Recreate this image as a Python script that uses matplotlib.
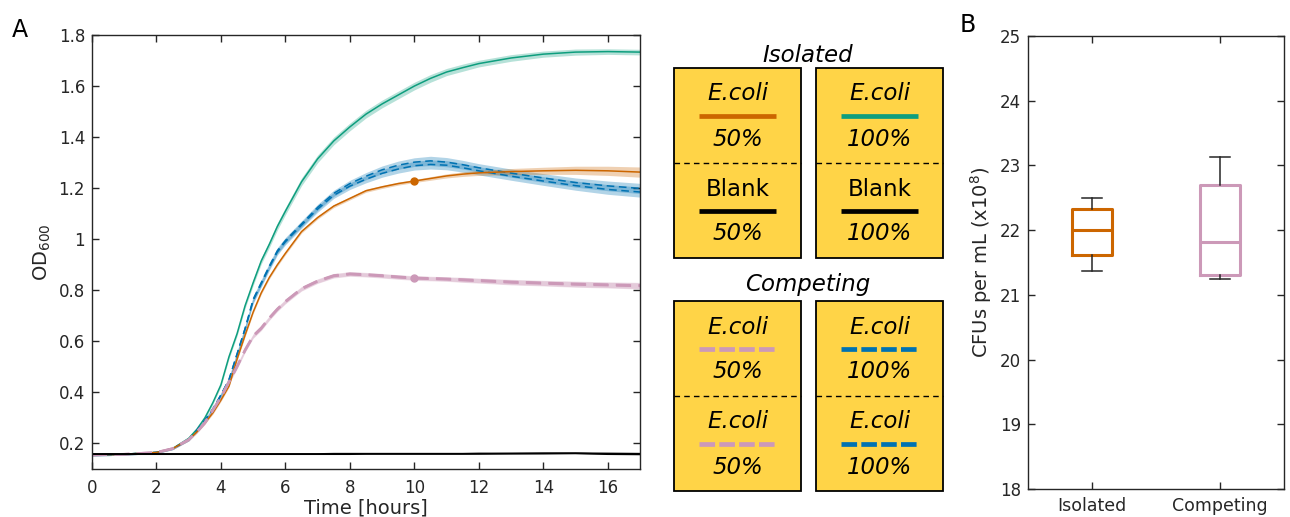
import numpy as np
import matplotlib.pyplot as plt
from matplotlib.patches import Rectangle

# ---- panel A : OD600 growth curves ----
time = [0, 1, 2, 2.5, 3, 3.25, 3.5, 3.75, 4, 4.25, 4.5, 4.75, 5, 5.25, 5.5, 5.75, 6,
        6.5, 7, 7.5, 8, 8.5, 9, 9.5, 10, 10.5, 11, 11.5, 12, 13, 14, 15, 16, 17]

iso100 = [0.155, 0.158, 0.165, 0.18, 0.22, 0.255, 0.30, 0.36, 0.43, 0.54, 0.63, 0.74, 0.83,
          0.915, 0.98, 1.05, 1.11, 1.225, 1.315, 1.385, 1.44, 1.49, 1.53, 1.565, 1.60, 1.63,
          1.655, 1.672, 1.688, 1.71, 1.725, 1.733, 1.735, 1.733]
iso50 = [0.155, 0.158, 0.165, 0.18, 0.215, 0.245, 0.28, 0.32, 0.37, 0.425, 0.53, 0.625, 0.715,
         0.79, 0.85, 0.90, 0.945, 1.03, 1.085, 1.13, 1.16, 1.19, 1.205, 1.218, 1.228, 1.238,
         1.248, 1.255, 1.26, 1.265, 1.268, 1.27, 1.268, 1.263]
comp100_a = [0.155, 0.158, 0.165, 0.18, 0.215, 0.25, 0.29, 0.335, 0.39, 0.45, 0.55, 0.65, 0.765,
             0.83, 0.895, 0.955, 0.995, 1.06, 1.125, 1.18, 1.218, 1.247, 1.272, 1.29, 1.302,
             1.307, 1.302, 1.292, 1.28, 1.259, 1.24, 1.222, 1.209, 1.199]
comp100_b = [0.155, 0.158, 0.165, 0.18, 0.215, 0.25, 0.29, 0.335, 0.39, 0.45, 0.55, 0.65, 0.76,
             0.825, 0.89, 0.95, 0.99, 1.055, 1.118, 1.172, 1.208, 1.235, 1.258, 1.275, 1.288,
             1.293, 1.29, 1.28, 1.268, 1.247, 1.228, 1.21, 1.195, 1.185]
comp50_a = [0.155, 0.158, 0.165, 0.18, 0.215, 0.245, 0.28, 0.33, 0.38, 0.44, 0.50, 0.565, 0.62,
            0.65, 0.69, 0.725, 0.755, 0.805, 0.835, 0.856, 0.863, 0.86, 0.856, 0.851, 0.847,
            0.845, 0.843, 0.84, 0.837, 0.831, 0.827, 0.823, 0.82, 0.817]
comp50_b = [0.155, 0.158, 0.165, 0.18, 0.215, 0.245, 0.282, 0.332, 0.383, 0.443, 0.503, 0.567, 0.622,
            0.653, 0.692, 0.727, 0.757, 0.807, 0.837, 0.858, 0.865, 0.862, 0.858, 0.853, 0.849,
            0.847, 0.845, 0.842, 0.839, 0.833, 0.829, 0.825, 0.822, 0.819]
blank50 = [0.159, 0.159, 0.159, 0.159, 0.159, 0.159, 0.159, 0.159, 0.159, 0.159, 0.159, 0.159, 0.159,
           0.159, 0.159, 0.159, 0.159, 0.159, 0.159, 0.16, 0.16, 0.16, 0.16, 0.16, 0.16, 0.16,
           0.16, 0.16, 0.161, 0.161, 0.162, 0.162, 0.161, 0.16]
blank100 = [0.158, 0.158, 0.158, 0.158, 0.158, 0.158, 0.158, 0.158, 0.158, 0.158, 0.158, 0.158, 0.158,
            0.158, 0.158, 0.158, 0.158, 0.158, 0.158, 0.158, 0.158, 0.159, 0.159, 0.159, 0.159, 0.159,
            0.159, 0.159, 0.159, 0.16, 0.16, 0.161, 0.158, 0.157]

# standard deviations (shaded bands)
iso100_sd = [0.004, 0.004, 0.004, 0.004, 0.005, 0.005, 0.006, 0.006, 0.007, 0.008, 0.009, 0.010,
             0.011, 0.012, 0.013, 0.014, 0.014, 0.015, 0.015, 0.015, 0.015, 0.015, 0.015, 0.015,
             0.015, 0.015, 0.014, 0.014, 0.013, 0.013, 0.012, 0.012, 0.011, 0.011]
iso50_sd = [0.003, 0.003, 0.003, 0.003, 0.004, 0.004, 0.004, 0.005, 0.005, 0.005, 0.005, 0.006,
            0.006, 0.006, 0.006, 0.006, 0.006, 0.006, 0.006, 0.006, 0.006, 0.006, 0.006, 0.006,
            0.006, 0.007, 0.008, 0.009, 0.010, 0.012, 0.014, 0.016, 0.018, 0.020]
comp100_sd = [0.004, 0.004, 0.004, 0.004, 0.005, 0.005, 0.006, 0.007, 0.008, 0.009, 0.010, 0.011,
              0.012, 0.012, 0.012, 0.012, 0.012, 0.012, 0.012, 0.012, 0.013, 0.014, 0.015, 0.016,
              0.017, 0.018, 0.018, 0.017, 0.016, 0.016, 0.017, 0.018, 0.019, 0.020]
comp50_sd = [0.004, 0.004, 0.004, 0.004, 0.005, 0.005, 0.006, 0.006, 0.007, 0.007, 0.008, 0.008,
             0.008, 0.008, 0.008, 0.008, 0.008, 0.008, 0.008, 0.008, 0.008, 0.008, 0.008, 0.008,
             0.008, 0.008, 0.008, 0.009, 0.009, 0.010, 0.010, 0.011, 0.011, 0.012]

# ---- panel B : CFU box plot stats ----
cfu_groups = ['Isolated', 'Competing']
cfu_whislo = [21.37, 21.25]
cfu_q1 = [21.62, 21.30]
cfu_med = [22.0, 21.81]
cfu_q3 = [22.32, 22.70]
cfu_whishi = [22.50, 23.13]

orange = '#CC6600'
green = '#0E9E7E'
blue = '#0072B2'
pink = '#CC99B8'
dark = '#262626'
yellow = '#FFD447'

plt.rcParams['font.family'] = 'DejaVu Sans'
plt.rcParams['mathtext.default'] = 'regular'

fig = plt.figure(figsize=(12.9, 5.17), dpi=100)
W, H = 1290, 517

def px_axes(l, t, r, b):
    return fig.add_axes([l / W, 1 - b / H, (r - l) / W, (b - t) / H])

def style(ax):
    ax.tick_params(direction='in', top=True, right=True, length=5, width=1,
                   colors=dark, labelsize=12, pad=5)
    for s in ax.spines.values():
        s.set_color(dark)
        s.set_linewidth(1)

# ---------------- panel A ----------------
axA = px_axes(92, 35, 640, 469)
t = np.array(time)
series = [
    (iso100, iso100_sd, green, '-'),
    (comp100_a, comp100_sd, blue, '--'),
    (comp100_b, comp100_sd, blue, '--'),
    (iso50, iso50_sd, orange, '-'),
    (comp50_a, comp50_sd, pink, '--'),
    (comp50_b, comp50_sd, pink, '--'),
]
for y, sd, c, ls in series:
    y = np.array(y)
    sd = np.array(sd)
    axA.fill_between(t, y - sd, y + sd, color=c, alpha=0.3, lw=0)
for y, sd, c, ls in series:
    if c == pink:
        axA.plot(t, y, color=c, lw=1.8, ls=ls, dashes=(6, 3))
    elif c == blue:
        axA.plot(t, y, color=c, lw=1.1, ls=ls, dashes=(5, 3))
    else:
        axA.plot(t, y, color=c, lw=1.1, ls=ls)
axA.plot(t, blank50, color='k', lw=1.2)
axA.plot(t, blank100, color='k', lw=1.2)

i10 = time.index(10)
axA.plot(time[i10], iso50[i10], 'o', color=orange, ms=5)
axA.plot(time[i10], comp50_a[i10], 'o', color=pink, ms=5)

axA.set_xlim(0, 17)
axA.set_ylim(0.1, 1.8)
axA.set_xticks(range(0, 17, 2))
yt = [0.2, 0.4, 0.6, 0.8, 1.0, 1.2, 1.4, 1.6, 1.8]
axA.set_yticks(yt)
axA.set_yticklabels(['%g' % v for v in yt])
axA.set_xlabel('Time [hours]', fontsize=14, color=dark, labelpad=1)
axA.set_ylabel('OD$_{600}$', fontsize=14, color=dark, labelpad=4)
style(axA)
axA.tick_params(axis='x', pad=7)

# ---------------- panel B ----------------
axB = px_axes(1028, 36, 1284, 489)
cols = [orange, pink]
for i in range(len(cfu_groups)):
    st = dict(med=cfu_med[i], q1=cfu_q1[i], q3=cfu_q3[i],
              whislo=cfu_whislo[i], whishi=cfu_whishi[i], fliers=[], label=cfu_groups[i])
    axB.bxp([st], positions=[i + 1], widths=0.31, capwidths=0.16, showfliers=False,
            boxprops=dict(color=cols[i], lw=2.2),
            medianprops=dict(color=cols[i], lw=2.2),
            whiskerprops=dict(color=dark, lw=1.1),
            capprops=dict(color=dark, lw=1.1))
axB.set_xlim(0.5, 2.5)
axB.set_ylim(18, 25)
axB.set_xticks([1, 2])
axB.set_xticklabels(cfu_groups)
axB.set_yticks(range(18, 26))
axB.set_ylabel('CFUs per mL (x10$^8$)', fontsize=14, color=dark, labelpad=4)
style(axB)
axB.tick_params(axis='x', labelsize=12.5, pad=6)

# ---------------- legend boxes ----------------
ov = fig.add_axes([0, 0, 1, 1])
ov.set_xlim(0, W)
ov.set_ylim(H, 0)
ov.axis('off')

fs = 16.5
boxes = [
    # (x0, x1, top, bottom, top_name, top_pct, top_color, top_dash, bot_name, bot_pct, bot_color, bot_dash)
    (674, 801, 68, 258, 'E.coli', '50%', orange, False, 'Blank', '50%', 'k', False),
    (816, 943, 68, 258, 'E.coli', '100%', green, False, 'Blank', '100%', 'k', False),
    (674, 801, 301, 491, 'E.coli', '50%', pink, True, 'E.coli', '50%', pink, True),
    (816, 943, 301, 491, 'E.coli', '100%', blue, True, 'E.coli', '100%', blue, True),
]
for x0, x1, top, bot, n1, p1, c1, d1, n2, p2, c2, d2 in boxes:
    ov.add_patch(Rectangle((x0, top), x1 - x0, bot - top, facecolor=yellow,
                           edgecolor='k', lw=1.3))
    mid = (top + bot) / 2
    ov.plot([x0, x1], [mid, mid], color='k', lw=1, ls=(0, (4, 3)))
    cx = (x0 + x1) / 2
    for name, pct, c, d, y0 in [(n1, p1, c1, d1, top), (n2, p2, c2, d2, mid)]:
        style_it = 'normal' if name == 'Blank' else 'italic'
        ov.text(cx, y0 + 26, name, ha='center', va='center', fontsize=fs,
                style=style_it, color='k')
        if d:
            ov.plot([cx - 38.5, cx + 38.5], [y0 + 48, y0 + 48], color=c, lw=3.4,
                    ls=(0, (3.3, 0.9)), solid_capstyle='butt', dash_capstyle='butt')
        else:
            ov.plot([cx - 38.5, cx + 38.5], [y0 + 48, y0 + 48], color=c, lw=3.4,
                    solid_capstyle='butt')
        ov.text(cx, y0 + 71, pct, ha='center', va='center', fontsize=fs,
                style='italic', color='k')

ov.text(808, 55, 'Isolated', ha='center', va='center', fontsize=fs, style='italic')
ov.text(808, 285, 'Competing', ha='center', va='center', fontsize=fs, style='italic')

ov.text(12, 30, 'A', fontsize=17, va='center')
ov.text(960, 25, 'B', fontsize=17, va='center')

fig.savefig('out.png', dpi=100)
